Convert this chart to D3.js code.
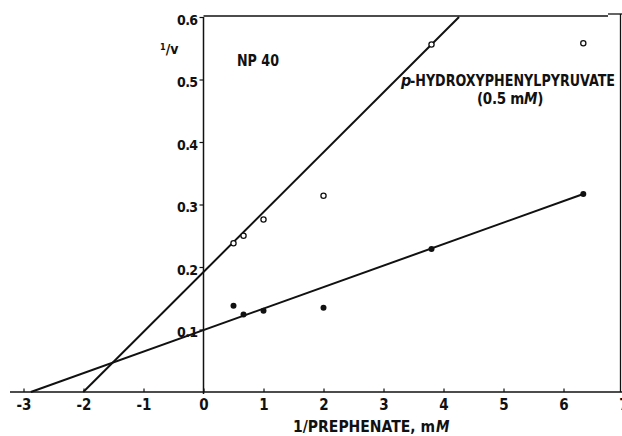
<!DOCTYPE html>
<html>
<head>
<meta charset="utf-8">
<script src="https://cdn.jsdelivr.net/npm/d3@7"></script>
<style>
  html, body { margin: 0; padding: 0; background: #fff; }
  svg { display: block; }
  text { font-family: "Liberation Sans Narrow", "DejaVu Sans Condensed", "Liberation Sans", sans-serif; fill: #111; }
</style>
</head>
<body>
<svg id="chart" width="622" height="436"></svg>
<script>
// Lineweaver–Burk plot: 1/v against 1/[prephenate]
const invPrephenate = [0.5, 0.667, 1, 2, 3.8, 6.33];
const invVInhibited = [0.238, 0.25, 0.276, 0.314, 0.556, 0.558]; // with p-hydroxyphenylpyruvate (0.5 mM)
const invVControl   = [0.138, 0.124, 0.13, 0.135, 0.229, 0.317];

// fitted lines: 1/v = intercept + slope * (1/S)
const lineNames      = ["inhibited", "control"];
const lineIntercepts = [0.192, 0.099];
const lineSlopes     = [0.0958, 0.0344];

const xTicks = [-3, -2, -1, 0, 1, 2, 3, 4, 5, 6, 7];
const xTickLabels = ["-3", "-2", "-1", "0", "1", "2", "3", "4", "5", "6", "7"];
const yTicks = [0.1, 0.2, 0.3, 0.4, 0.5, 0.6];
const yTickLabels = ["0.1", "0.2", "0.3", "0.4", "0.5", "0.6"];

const svg = d3.select("#chart");
const ink = "#111";
const narrow = "'Liberation Sans Narrow','DejaVu Sans Condensed',sans-serif";

const x = d3.scaleLinear().domain([-3, 7]).range([23.5, 623.5]);
const y = d3.scaleLinear().domain([0, 0.6]).range([392, 17]);

// frame: x axis, y axis at x=0, top and right borders
const g = svg.append("g").attr("stroke", ink).attr("fill", "none");
g.append("line").attr("x1", 10).attr("x2", 622).attr("y1", y(0)).attr("y2", y(0)).attr("stroke-width", 1.6);
g.append("line").attr("x1", x(0)).attr("x2", x(0)).attr("y1", y(0.6)).attr("y2", y(0) + 2).attr("stroke-width", 1.5);
g.append("line").attr("x1", x(0)).attr("x2", 608).attr("y1", y(0.6) - 1).attr("y2", y(0.6) - 1).attr("stroke-width", 1.3);
g.append("line").attr("x1", 608).attr("x2", 622).attr("y1", y(0.6) - 3).attr("y2", y(0.6) - 3).attr("stroke-width", 1.3);
g.append("line").attr("x1", 620.5).attr("x2", 620.5).attr("y1", y(0.6) - 3).attr("y2", y(0)).attr("stroke-width", 1.3);

// x axis ticks (pointing up) and labels
const xAxis = d3.axisBottom(x).tickValues(xTicks).tickSize(0).tickPadding(0)
  .tickFormat((d, i) => xTickLabels[i]);
const xg = svg.append("g").attr("transform", `translate(0,${y(0)})`).call(xAxis);
xg.select(".domain").remove();
xg.selectAll(".tick text").attr("y", 18).attr("dy", null)
  .attr("font-size", 15).attr("font-weight", "bold").attr("fill", ink)
  .attr("font-family", narrow);
xg.selectAll(".tick").append("line").attr("y1", 0).attr("y2", -3.5)
  .attr("stroke", ink).attr("stroke-width", 1.2);

// y axis ticks (pointing left) and labels
const yAxis = d3.axisLeft(y).tickValues(yTicks).tickSize(4).tickPadding(2)
  .tickFormat((d, i) => yTickLabels[i]);
const yg = svg.append("g").attr("transform", `translate(${x(0)},0)`).call(yAxis);
yg.select(".domain").remove();
yg.selectAll(".tick line").attr("stroke", ink).attr("stroke-width", 1.2);
yg.selectAll(".tick text").attr("font-size", 14).attr("font-weight", "bold").attr("fill", ink)
  .attr("dy", "0.5em").attr("letter-spacing", "-0.6")
  .attr("font-family", narrow);

// fitted lines: from the x intercept up to the plot top or the last concentration
const xMax = d3.max(invPrephenate);
lineNames.forEach((name, i) => {
  const b = lineIntercepts[i], m = lineSlopes[i];
  const x0 = -b / m;
  const x1 = Math.min(xMax, (0.6 - b) / m);
  svg.append("line")
    .attr("class", "fit-" + name)
    .attr("x1", x(x0)).attr("y1", y(b + m * x0))
    .attr("x2", x(x1)).attr("y2", y(b + m * x1))
    .attr("stroke", ink).attr("stroke-width", 2);
});

// data points
svg.append("g").selectAll("circle").data(invPrephenate).join("circle")
  .attr("cx", d => x(d)).attr("cy", (d, i) => y(invVInhibited[i]))
  .attr("r", 2.6).attr("fill", "#fff").attr("stroke", ink).attr("stroke-width", 1.3);
svg.append("g").selectAll("circle").data(invPrephenate).join("circle")
  .attr("cx", d => x(d)).attr("cy", (d, i) => y(invVControl[i]))
  .attr("r", 3).attr("fill", ink);

// annotations
const yLab = svg.append("text").attr("x", 160).attr("y", 54).attr("font-size", 14).attr("font-weight", "bold");
yLab.append("tspan").attr("font-size", 9).attr("dy", -4).text("1");
yLab.append("tspan").attr("dy", 4).text("/v");

svg.append("text").attr("x", 237).attr("y", 66).attr("font-size", 15).attr("font-weight", "bold")
  .attr("textLength", 42).attr("lengthAdjust", "spacingAndGlyphs").text("NP 40");

svg.append("text").attr("x", 401).attr("y", 86).attr("font-size", 16)
  .attr("font-style", "italic").attr("font-weight", "bold").text("p");
svg.append("text").attr("x", 410).attr("y", 86).attr("font-size", 16).attr("font-weight", "bold")
  .attr("textLength", 205).attr("lengthAdjust", "spacingAndGlyphs").text("-HYDROXYPHENYLPYRUVATE");

const conc = svg.append("text").attr("x", 477).attr("y", 104).attr("font-size", 15)
  .attr("font-weight", "bold").attr("letter-spacing", "-0.3");
conc.append("tspan").text("(0.5 m");
conc.append("tspan").attr("font-style", "italic").text("M");
conc.append("tspan").text(")");

svg.append("text").attr("x", 293).attr("y", 432).attr("font-size", 15).attr("font-weight", "bold")
  .attr("textLength", 142).attr("lengthAdjust", "spacingAndGlyphs").text("1/PREPHENATE, m");
svg.append("text").attr("x", 436).attr("y", 432).attr("font-size", 15)
  .attr("font-style", "italic").attr("font-weight", "bold").text("M");
</script>
</body>
</html>
